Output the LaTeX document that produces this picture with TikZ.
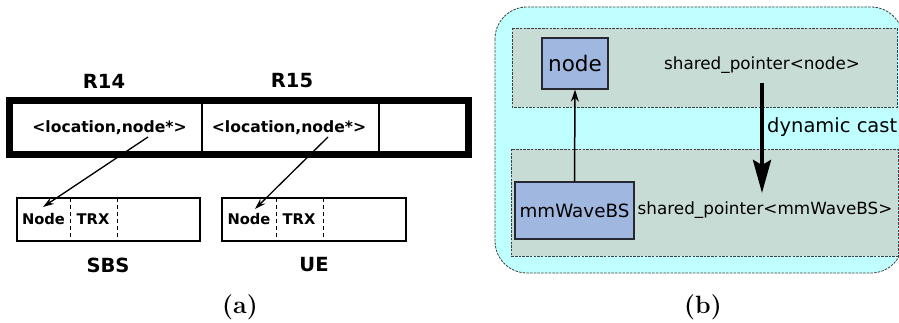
\documentclass[tikz,border=0pt]{standalone}
\usepackage{fontspec}
\newfontfamily\dejavu{DejaVu Sans}
\usetikzlibrary{arrows.meta}
\definecolor{cyanbg}{RGB}{192,255,255}
\definecolor{panelbg}{RGB}{200,220,214}
\definecolor{classbg}{RGB}{160,184,224}
\definecolor{classedge}{RGB}{40,40,50}
\tikzset{
  x=1pt, y=-1pt,
  boldlbl/.style={font=\dejavu\bfseries\fontsize{#1}{#1}\selectfont, inner sep=0},
  plainlbl/.style={font=\dejavu\fontsize{#1}{#1}\selectfont, inner sep=0},
  caption/.style={font=\fontsize{25}{30}\selectfont\bfseries, inner sep=0},
  entbox/.style={draw, line width=2.6pt},
  divline/.style={line width=1pt, dash pattern=on 4pt off 3pt},
  ptr/.style={line width=1.3pt, -{Stealth[length=11pt,width=7pt]}},
  panel/.style={draw=black!75, line width=0.8pt, dash pattern=on 2.5pt off 1.2pt},
  classbox/.style={draw=classedge, line width=1.4pt, fill=classbg},
}
\begin{document}
\begin{tikzpicture}
\useasboundingbox (0,0) rectangle (899,323);
\fill[white] (0,0) rectangle (899,323);

% ---------- (a) hash table of entries ----------
\draw[line width=7pt] (9,100.5) rectangle (468,155);
\draw[line width=1.6pt] (202,100.5) -- (202,155);
\draw[line width=1.6pt] (379,100.5) -- (379,155);
\node[boldlbl=19.5] (r14) at (104,81) {R14};
\node[boldlbl=19.5] (r15) at (292,81) {R15};
\node[boldlbl=15.6] (loc1) at (109.5,128) {<location,node*>};
\node[boldlbl=15.6] (loc2) at (289,128) {<location,node*>};
\coordinate (p1) at (148,137);
\coordinate (p2) at (328,137);

% SBS record
\draw[entbox] (17,198) rectangle (200,241);
\draw[divline] (70,198) -- (70,241);
\draw[divline] (117,198) -- (117,241);
\node[boldlbl=14.7] (sbsnode) at (43.5,219) {Node};
\node[boldlbl=14.7] (sbstrx) at (93,219) {TRX};
\node[boldlbl=19.5] (sbs) at (108,265) {SBS};
\coordinate (t1) at (43,207);

% UE record
\draw[entbox] (222,198) rectangle (406,241);
\draw[divline] (276,198) -- (276,241);
\draw[divline] (323,198) -- (323,241);
\node[boldlbl=14.7] (uenode) at (249,219) {Node};
\node[boldlbl=14.7] (uetrx) at (299,219) {TRX};
\node[boldlbl=19.5] (ue) at (314,265) {UE};
\coordinate (t2) at (255,209);

\draw[ptr] (p1) -- (t1);
\draw[ptr] (p2) -- (t2);

\node[caption] (capa) at (240,307) {(a)};

% ---------- (b) class cast ----------
\begin{scope}
\clip (480,0) rectangle (899,323);
\draw[panel, fill=cyanbg, rounded corners=32pt] (495,7) rectangle (903,273);
\draw[panel, fill=panelbg] (512,28) rectangle (897,107);
\draw[panel, fill=panelbg] (511,149) rectangle (898,256);
\end{scope}

\node[classbox, minimum width=66pt, minimum height=51pt, plainlbl=21.5] (node) at (575,63.5) {node};
\node[classbox, minimum width=119pt, minimum height=57pt, plainlbl=18.3] (mmw) at (574.5,210.5) {mmWaveBS};
\node[plainlbl=16.8] (spnode) at (762,65) {shared\_pointer<node>};
\node[plainlbl=16.8] (spmmw) at (765,210) {shared\_pointer<mmWaveBS>};
\node[plainlbl=19.5, anchor=west] (dc) at (767,127) {dynamic cast};
\coordinate (castfrom) at (762,83);
\coordinate (castto) at (762,193);

\draw[line width=1.5pt, -{Stealth[length=12pt,width=8pt]}] (mmw.north) -- (node.south);
\draw[line width=4pt, -{Stealth[length=33pt,width=18pt,inset=5pt]}] (castfrom) -- (castto);

\node[caption] (capb) at (703,307) {(b)};
\end{tikzpicture}
\end{document}
